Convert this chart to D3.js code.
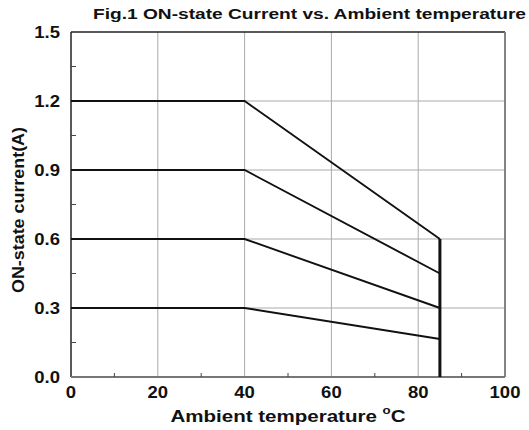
<!DOCTYPE html>
<html>
<head>
<meta charset="utf-8">
<script src="https://cdn.jsdelivr.net/npm/d3@7"></script>
<style>
  body { margin: 0; background: #fff; }
  text { font-family: "Liberation Sans", Arial, sans-serif; font-weight: bold; fill: #111; }
</style>
</head>
<body>
<div id="chart"></div>
<script>
// Derating curves: current vs ambient temperature
const temps = [0, 40, 85];
const seriesA = [1.2, 1.2, 0.6];
const seriesB = [0.9, 0.9, 0.45];
const seriesC = [0.6, 0.6, 0.3];
const seriesD = [0.3, 0.3, 0.165];
const cutoffTemp = 85;
const cutoffRange = [0, 0.6];

const xTicks = [0, 20, 40, 60, 80, 100];
const xMinor = [10, 30, 50, 70, 90];
const yTicks = [0.0, 0.3, 0.6, 0.9, 1.2, 1.5];
const yMinor = [0.15, 0.45, 0.75, 1.05, 1.35];

const width = 529, height = 430;
const margin = { left: 71, right: 24, top: 32, bottom: 53 };

const svg = d3.select('#chart').append('svg')
  .attr('width', width)
  .attr('height', height);

const x = d3.scaleLinear().domain([0, 100]).range([margin.left, width - margin.right]);
const y = d3.scaleLinear().domain([0, 1.5]).range([height - margin.bottom, margin.top]);

// stretch text a bit wider, the reference font is broader than Liberation
const widen = (sel, k) => sel.each(function() {
  const w = this.getComputedTextLength();
  d3.select(this).attr('textLength', w * k).attr('lengthAdjust', 'spacingAndGlyphs');
});

// grid lines
svg.append('g')
  .selectAll('line')
  .data(xTicks.slice(1, -1))
  .enter().append('line')
  .attr('x1', d => x(d)).attr('x2', d => x(d))
  .attr('y1', y(0)).attr('y2', y(1.5))
  .attr('stroke', '#aaa').attr('stroke-width', 1);

svg.append('g')
  .selectAll('line')
  .data(yTicks.slice(1, -1))
  .enter().append('line')
  .attr('x1', x(0)).attr('x2', x(100))
  .attr('y1', d => y(d)).attr('y2', d => y(d))
  .attr('stroke', '#aaa').attr('stroke-width', 1);

// frame
svg.append('line').attr('x1', x(0)).attr('x2', x(100)).attr('y1', y(1.5)).attr('y2', y(1.5))
  .attr('stroke', '#222').attr('stroke-width', 1.5);
svg.append('line').attr('x1', x(0)).attr('x2', x(0)).attr('y1', y(1.5)).attr('y2', y(0))
  .attr('stroke', '#222').attr('stroke-width', 1.5);
svg.append('line').attr('x1', x(100)).attr('x2', x(100)).attr('y1', y(1.5)).attr('y2', y(0))
  .attr('stroke', '#777').attr('stroke-width', 1.8);
svg.append('line').attr('x1', x(0)).attr('x2', x(100)).attr('y1', y(0)).attr('y2', y(0))
  .attr('stroke', '#777').attr('stroke-width', 1.8);

// ticks
svg.append('g').selectAll('line')
  .data(yTicks.slice(1, -1))
  .enter().append('line')
  .attr('x1', x(0)).attr('x2', x(0) + 8)
  .attr('y1', d => y(d)).attr('y2', d => y(d))
  .attr('stroke', '#222').attr('stroke-width', 1.2);
svg.append('g').selectAll('line')
  .data(yMinor)
  .enter().append('line')
  .attr('x1', x(0)).attr('x2', x(0) + 5)
  .attr('y1', d => y(d)).attr('y2', d => y(d))
  .attr('stroke', '#444').attr('stroke-width', 1);
svg.append('g').selectAll('line')
  .data(xMinor)
  .enter().append('line')
  .attr('x1', d => x(d)).attr('x2', d => x(d))
  .attr('y1', y(0)).attr('y2', y(0) - 4)
  .attr('stroke', '#444').attr('stroke-width', 1);

// tick labels
svg.append('g').selectAll('text')
  .data(yTicks)
  .enter().append('text')
  .attr('x', x(0) - 11)
  .attr('y', d => y(d) + 6)
  .attr('text-anchor', 'end')
  .attr('font-size', 16.5)
  .text(d => d.toFixed(1))
  .call(widen, 1.12);

svg.append('g').selectAll('text')
  .data(xTicks)
  .enter().append('text')
  .attr('x', d => x(d))
  .attr('y', y(0) + 21)
  .attr('text-anchor', 'middle')
  .attr('font-size', 16.5)
  .text(d => d)
  .call(widen, 1.12);

// data lines
const line = d3.line().x(d => x(d[0])).y(d => y(d[1]));
[seriesA, seriesB, seriesC, seriesD].forEach(s => {
  svg.append('path')
    .datum(temps.map((t, i) => [t, s[i]]))
    .attr('d', line)
    .attr('fill', 'none')
    .attr('stroke', '#111')
    .attr('stroke-width', 1.9);
});

svg.append('line')
  .attr('x1', x(cutoffTemp)).attr('x2', x(cutoffTemp))
  .attr('y1', y(cutoffRange[0])).attr('y2', y(cutoffRange[1]))
  .attr('stroke', '#111').attr('stroke-width', 3);

// titles
svg.append('text')
  .attr('x', 93).attr('y', 19)
  .attr('font-size', 14)
  .attr('textLength', 433)
  .attr('lengthAdjust', 'spacingAndGlyphs')
  .text('Fig.1 ON-state Current vs. Ambient temperature');

const xt = svg.append('text')
  .attr('x', (x(0) + x(100)) / 2)
  .attr('y', 422)
  .attr('text-anchor', 'middle')
  .attr('font-size', 17)
  .attr('textLength', 235)
  .attr('lengthAdjust', 'spacingAndGlyphs');
xt.append('tspan').text('Ambient temperature ');
xt.append('tspan').attr('font-size', 11).attr('dy', -8).text('o');
xt.append('tspan').attr('dy', 8).text('C');

svg.append('text')
  .attr('transform', 'translate(24, 210) rotate(-90)')
  .attr('text-anchor', 'middle')
  .attr('font-size', 16)
  .attr('textLength', 166)
  .attr('lengthAdjust', 'spacingAndGlyphs')
  .text('ON-state current(A)');
</script>
</body>
</html>
